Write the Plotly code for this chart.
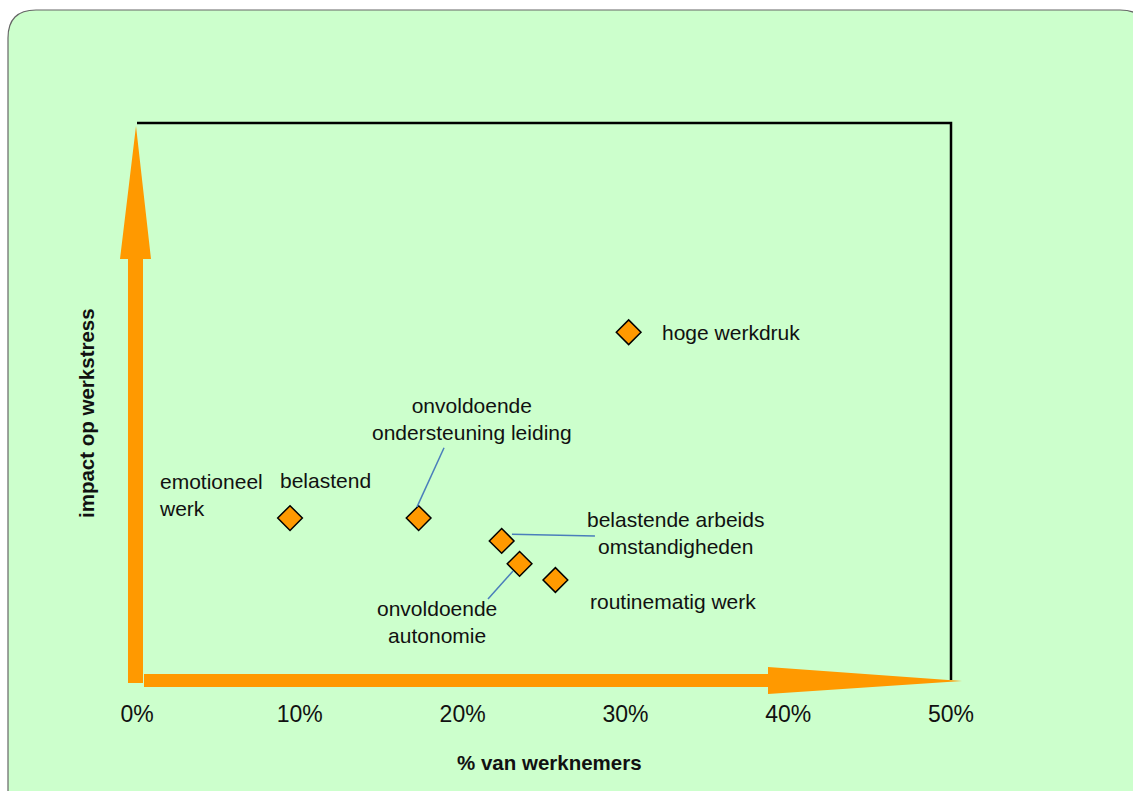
import plotly.graph_objects as go

# --- data ---
factors = ["emotioneel belastend werk", "onvoldoende ondersteuning leiding",
           "belastende arbeidsomstandigheden", "onvoldoende autonomie",
           "routinematig werk", "hoge werkdruk"]
pct_employees = [9.4, 17.3, 22.4, 23.5, 25.7, 30.2]
impact = [2.92, 2.92, 2.51, 2.10, 1.81, 6.25]
x_ticks = [0, 10, 20, 30, 40, 50]
x_tick_labels = ["0%", "10%", "20%", "30%", "40%", "50%"]

W, H = 1133, 791
L, R, T, B = 137, 951, 123, 681  # pixel positions of the plot area
XMAX, YMAX = 50, 10

def px(xp):
    return (xp - L) / (R - L)

def py(yp):
    return (B - yp) / (B - T)

ORANGE = "#FF9900"
FONT_FAM = "Liberation Sans, Arial, sans-serif"
LABEL_FONT = dict(family=FONT_FAM, size=21, color="#111111")
BLUE = "#4A7EBB"

fig = go.Figure()
fig.add_trace(go.Scatter(
    x=pct_employees, y=impact, mode="markers",
    marker=dict(symbol="diamond", size=19, color=ORANGE, line=dict(color="black", width=1.5)),
    text=factors, hoverinfo="text", showlegend=False, cliponaxis=False))

shapes = []
# background rounded rectangle
x0, y0, x1, y1, r = 8, 10, 1148, 805, 28
path = (f"M {px(x0)},{py(y0 + r)} Q {px(x0)},{py(y0)} {px(x0 + r)},{py(y0)} "
        f"L {px(x1 - r)},{py(y0)} Q {px(x1)},{py(y0)} {px(x1)},{py(y0 + r)} "
        f"L {px(x1)},{py(y1)} L {px(x0)},{py(y1)} Z")
shapes.append(dict(type="path", xref="paper", yref="paper", path=path,
                   fillcolor="#CCFFCC", line=dict(color="#666666", width=1.2), layer="below"))
# top and right frame lines
shapes.append(dict(type="path", xref="paper", yref="paper",
                   path=f"M {px(137)},{py(123)} L {px(951)},{py(123)} L {px(951)},{py(680)}",
                   line=dict(color="black", width=2.5)))
# vertical arrow
va = (f"M {px(128)},{py(683)} L {px(128)},{py(259)} L {px(120)},{py(259)} L {px(136)},{py(126)} "
      f"L {px(151)},{py(259)} L {px(143)},{py(259)} L {px(143)},{py(683)} Z")
shapes.append(dict(type="path", xref="paper", yref="paper", path=va, fillcolor=ORANGE, line=dict(width=0)))
# horizontal arrow
ha = (f"M {px(144)},{py(674)} L {px(768)},{py(674)} L {px(768)},{py(667)} L {px(962)},{py(681)} "
      f"L {px(768)},{py(694)} L {px(768)},{py(687)} L {px(144)},{py(687)} Z")
shapes.append(dict(type="path", xref="paper", yref="paper", path=ha, fillcolor=ORANGE, line=dict(width=0)))

# leader lines
for (xa, ya, xb, yb) in [(18.86, 4.18, 17.20, 3.12), (23.03, 2.63, 28.13, 2.60), (23.10, 1.97, 21.56, 1.47)]:
    shapes.append(dict(type="line", xref="x", yref="y", x0=xa, y0=ya, x1=xb, y1=yb,
                       line=dict(color=BLUE, width=1.5)))

annotations = []
def lab(text, x, y, xanchor="center", align="center"):
    annotations.append(dict(text=text, x=x, y=y, xref="x", yref="y", showarrow=False,
                            xanchor=xanchor, yanchor="middle", align=align, font=LABEL_FONT))

lab("emotioneel<br>werk", 1.23, 3.34, "left", "left")
lab("belastend", 8.66, 3.60, "left", "left")
lab("onvoldoende<br>ondersteuning leiding", 20.58, 4.70)
lab("belastende arbeids<br>omstandigheden", 33.08, 2.65)
lab("onvoldoende<br>autonomie", 18.43, 1.05)
lab("routinematig werk", 27.70, 1.43, "left", "left")
lab("hoge werkdruk", 32.13, 6.24, "left", "left")

TITLE_FONT = dict(family=FONT_FAM, size=20.5, color="#111111")
annotations.append(dict(text="<b>% van werknemers</b>", x=px(549), y=py(762), xref="paper", yref="paper",
                        showarrow=False, xanchor="center", yanchor="middle", font=TITLE_FONT))
annotations.append(dict(text="<b>impact op werkstress</b>", x=px(86), y=py(413), xref="paper", yref="paper",
                        showarrow=False, xanchor="center", yanchor="middle", textangle=-90, font=TITLE_FONT))

fig.update_layout(
    width=W, height=H,
    margin=dict(l=L, r=W - R, t=T, b=H - B, pad=0),
    paper_bgcolor="white", plot_bgcolor="rgba(0,0,0,0)",
    shapes=shapes, annotations=annotations,
    xaxis=dict(range=[0, XMAX], tickvals=x_ticks, ticktext=x_tick_labels, showgrid=False,
               zeroline=False, showline=False, ticks="", ticklabelstandoff=17,
               tickfont=dict(family=FONT_FAM, size=23, color="#111111"), fixedrange=True),
    yaxis=dict(range=[0, YMAX], showticklabels=False, showgrid=False, zeroline=False,
               showline=False, ticks="", fixedrange=True),
)

fig.write_html("out.html", config={"displayModeBar": False},
               post_script="document.body.style.margin='0';"
                           "document.documentElement.style.overflow='hidden';")
